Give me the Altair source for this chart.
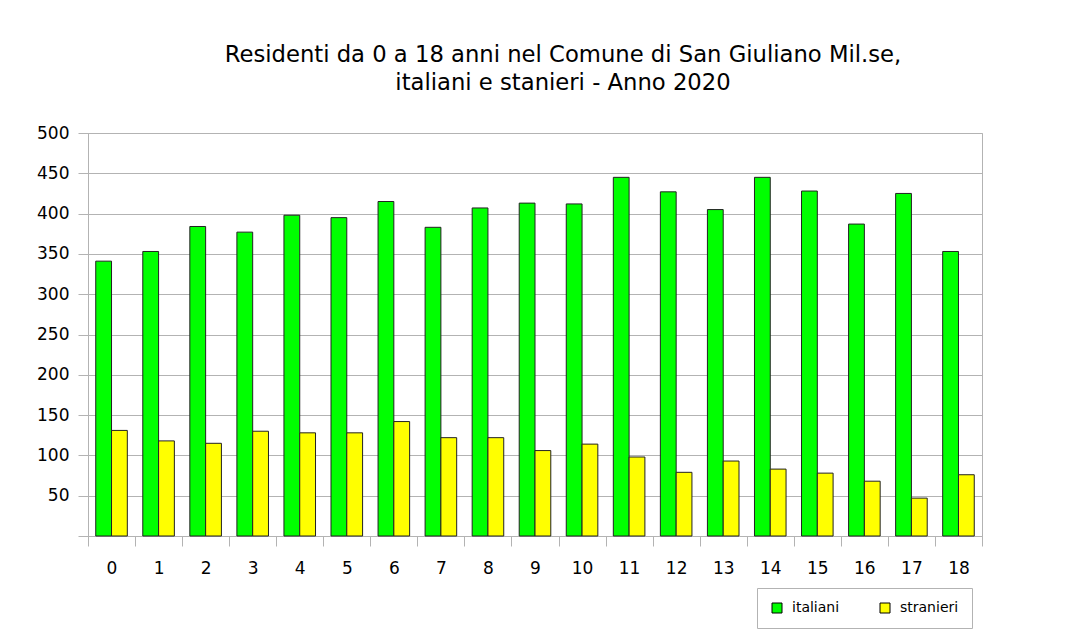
import altair as alt
import pandas as pd

ages = [str(i) for i in range(19)]
italiani = [341, 353, 384, 377, 398, 395, 415, 383, 407, 413, 412, 445, 427, 405, 445, 428, 387, 425, 353]
stranieri = [131, 118, 115, 130, 128, 128, 142, 122, 122, 106, 114, 98, 79, 93, 83, 78, 68, 47, 76]
series = ["italiani", "stranieri"]
colors = ["#00ff00", "#ffff00"]
y_ticks = list(range(0, 501, 50))
title_lines = ["Residenti da 0 a 18 anni nel Comune di San Giuliano Mil.se,",
               "italiani e stanieri - Anno 2020"]

rows = []
for i, a in enumerate(ages):
    rows.append({"eta": a, "serie": series[0], "valore": italiani[i]})
    rows.append({"eta": a, "serie": series[1], "valore": stranieri[i]})
df = pd.DataFrame(rows)

FONT = "DejaVu Sans"
GRID = "#b3b3b3"

chart = alt.Chart(df).mark_bar(stroke="#222222", strokeWidth=1).encode(
    x=alt.X("eta:N", sort=ages,
            scale=alt.Scale(paddingInner=0, paddingOuter=0),
            axis=alt.Axis(title=None, labelAngle=0, tickBand="extent", grid=False,
                          tickSize=10, tickColor=GRID, domainColor=GRID,
                          labelFont=FONT, labelFontSize=17, labelColor="#000000",
                          labelPadding=14)),
    xOffset=alt.XOffset("serie:N", sort=series,
                        scale=alt.Scale(paddingInner=0, paddingOuter=0.49)),
    y=alt.Y("valore:Q",
            scale=alt.Scale(domain=[0, 500], nice=False),
            axis=alt.Axis(title=None, values=y_ticks,
                          labelExpr="datum.value == 0 ? '' : datum.label",
                          grid=True, gridColor=GRID, tickSize=10, tickColor=GRID,
                          domainColor=GRID, labelFont=FONT, labelFontSize=17,
                          labelColor="#000000", labelPadding=9)),
    color=alt.Color("serie:N",
                    scale=alt.Scale(domain=series, range=colors),
                    legend=alt.Legend(title=None, orient="none", legendX=669, legendY=455,
                                      direction="horizontal", symbolType="square",
                                      symbolSize=100, symbolStrokeColor="#000000",
                                      symbolStrokeWidth=1, labelFont=FONT,
                                      labelFontSize=14, labelColor="#000000",
                                      strokeColor=GRID, fillColor="#ffffff",
                                      padding=13, columnPadding=38, labelOffset=8)),
).properties(
    width=894,
    height=403,
    padding={"left": 28, "top": 36, "right": 10, "bottom": 10},
    title=alt.TitleParams(text=title_lines, font=FONT, fontSize=22.7, fontWeight="normal",
                          color="#000000", anchor="middle", lineHeight=28, offset=29,
                          dx=28),
).configure_view(stroke=GRID)

chart.save("out.html", embed_options={"renderer": "svg", "actions": False})
